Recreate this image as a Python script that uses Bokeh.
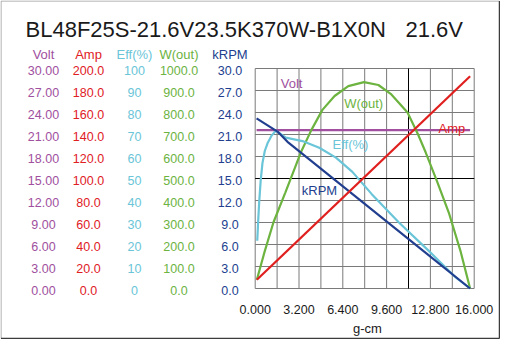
from bokeh.plotting import figure
from bokeh.models import Range1d, ColumnDataSource
from bokeh.core.properties import value
from bokeh.embed import file_html
from bokeh.resources import INLINE

# ---------------- data ----------------
title_model = "BL48F25S-21.6V23.5K370W-B1X0N"
title_voltage = "21.6V"
x_label = "g-cm"
series_names = ["Volt", "Amp", "Eff(%)", "W(out)", "kRPM"]

volt_ticks = [0, 3, 6, 9, 12, 15, 18, 21, 24, 27, 30]
amp_ticks = [0, 20, 40, 60, 80, 100, 120, 140, 160, 180, 200]
eff_ticks = [0, 10, 20, 30, 40, 50, 60, 70, 80, 90, 100]
w_ticks = [0, 100, 200, 300, 400, 500, 600, 700, 800, 900, 1000]
krpm_ticks = [0, 3, 6, 9, 12, 15, 18, 21, 24, 27, 30]
torque_ticks = [0.0, 3.2, 6.4, 9.6, 12.8, 16.0]
torque_grid = [0.0, 1.6, 3.2, 4.8, 6.4, 8.0, 9.6, 11.2, 12.8, 14.4, 16.0]

volt_torque = [0.10, 15.70]
volt = [21.6, 21.6]

amp_torque = [0.12, 15.70]
amp = [7.9, 193.0]

eff_torque = [0.15, 0.22, 0.29, 0.40, 0.53, 0.70, 0.90, 1.20, 1.50, 1.80, 2.24,
              3.45, 4.68, 5.90, 7.10, 8.50, 10.50, 12.70, 14.65, 15.70]
eff = [21.7, 31.0, 39.0, 49.0, 57.0, 62.5, 66.0, 69.5, 71.7, 70.5, 68.6,
       67.0, 64.0, 59.5, 53.0, 43.0, 30.0, 17.0, 5.0, 0.0]

w_torque = [0.12, 0.70, 1.33, 2.20, 3.33, 4.10, 4.91, 5.80, 6.80, 7.95, 9.00,
            9.90, 11.13, 11.90, 12.46, 13.30, 14.17, 15.00, 15.70]
w_out = [40, 170, 300, 436, 618, 720, 812, 875, 920, 938, 925,
         885, 800, 700, 618, 485, 340, 170, 0]

krpm_torque = [0.10, 1.63, 2.36, 15.70]
krpm = [23.2, 21.4, 20.0, 0.0]

# ---------------- layout (pixels inside the 500x339 canvas) ----------------
FIG_W, FIG_H = 500, 339
FR_L, FR_R, FR_T, FR_B = 254.7, 473.7, 68.0, 288.0   # chart grid box
X0, X1 = torque_grid[0], torque_grid[-1]
Y0, Y1 = krpm_ticks[0], krpm_ticks[-1]
xpp = (X1 - X0) / (FR_R - FR_L)
ypp = (Y1 - Y0) / (FR_B - FR_T)
x_start, x_end = X0 - FR_L * xpp, X1 + (FIG_W - FR_R) * xpp
y_start, y_end = Y0 - (FIG_H - FR_B) * ypp, Y1 + FR_T * ypp


def px_x(px):
    return x_start + px * xpp


def px_y(py):
    return y_end - py * ypp


FONT = "Liberation Sans"
C_VOLT = "#a0509e"
C_AMP = "#e0201f"
C_EFF = "#6ac5d8"
C_W = "#6cb33f"
C_RPM = "#223f8f"
GRID = "#7a7a7a"
TXT = "#1a1a1a"

p = figure(width=FIG_W, height=FIG_H, min_border=0,
           x_range=Range1d(x_start, x_end), y_range=Range1d(y_start, y_end),
           x_axis_location=None, y_axis_location=None,
           output_backend="svg", toolbar_location=None)
p.grid.visible = False
p.outline_line_color = None
p.background_fill_color = "white"
p.border_fill_color = "white"


def scaled(top):
    f = top / Y1
    return Range1d(y_start * f, y_end * f)


p.extra_y_ranges = {
    "volt": scaled(volt_ticks[-1]),
    "amp": scaled(amp_ticks[-1]),
    "eff": scaled(eff_ticks[-1]),
    "w": scaled(w_ticks[-1]),
}

# outer border
p.segment(x0=[px_x(0.5), px_x(0.5)], y0=[px_y(0.5), px_y(0.5)],
          x1=[px_x(0.5), px_x(499)], y1=[px_y(338), px_y(0.5)],
          line_color="#9c9c9c", line_width=1)
p.segment(x0=[px_x(499), px_x(0.5)], y0=[px_y(0.5), px_y(338)],
          x1=[px_x(499), px_x(499)], y1=[px_y(338), px_y(338)],
          line_color="#3c3c3c", line_width=1.5)

# grid
n = len(torque_grid)
p.segment(x0=torque_grid, y0=[Y0] * n, x1=torque_grid, y1=[Y1] * n,
          line_color=GRID, line_width=1)
m = len(krpm_ticks)
p.segment(x0=[X0] * m, y0=krpm_ticks, x1=[X1] * m, y1=krpm_ticks,
          line_color=GRID, line_width=1)
p.segment(x0=[torque_grid[7], X0], y0=[Y0, krpm_ticks[5]],
          x1=[torque_grid[7], X1], y1=[Y1, krpm_ticks[5]],
          line_color="black", line_width=1)

# curves
p.line(volt_torque, volt, y_range_name="volt", line_color=C_VOLT, line_width=2.2)
p.line(w_torque, w_out, y_range_name="w", line_color=C_W, line_width=2.2)
p.line(eff_torque, eff, y_range_name="eff", line_color=C_EFF, line_width=2.2)
p.line(krpm_torque, krpm, line_color=C_RPM, line_width=2.2)
p.line(amp_torque, amp, y_range_name="amp", line_color=C_AMP, line_width=2.2)

# curve labels
lab = ColumnDataSource(dict(
    x=[1.87, 6.5, 13.39, 5.65, 3.4],
    y=[27.95, 25.2, 21.8, 19.6, 13.4],
    t=["Volt", "W(out)", "Amp", "Eff(%)", "kRPM"],
    c=[C_VOLT, C_W, C_AMP, C_EFF, C_RPM]))
p.text(x="x", y="y", text="t", text_color="c", source=lab, text_font=value(FONT),
       text_font_size="13px", text_align="left", text_baseline="middle")

# x tick labels and axis title
xt = ColumnDataSource(dict(x=torque_ticks, y=[px_y(308.7)] * len(torque_ticks),
                           t=[f"{v:.3f}" for v in torque_ticks]))
p.text(x="x", y="y", text="t", source=xt, text_font=value(FONT),
       text_font_size="12.5px", text_color=TXT, text_align="center",
       text_baseline="alphabetic")
p.text(x=[px_x(367)], y=[px_y(328)], text=[x_label], text_font=value(FONT),
       text_font_size="13px", text_color=TXT, text_align="center",
       text_baseline="alphabetic")

# title (model name and voltage, separated by a wide gap)
p.text(x=[px_x(25), px_x(405)], y=[px_y(29.3), px_y(29.3)],
       text=[title_model, title_voltage], text_font=value(FONT),
       text_font_size="22px", text_color=TXT, text_align="left",
       text_baseline="alphabetic")

# left value columns with headers
cols = [
    (series_names[0], volt_ticks, [f"{v:.2f}" for v in volt_ticks], "volt", C_VOLT, 43),
    (series_names[1], amp_ticks, [f"{v:.1f}" for v in amp_ticks], "amp", C_AMP, 88),
    (series_names[2], eff_ticks, [f"{v:d}" for v in eff_ticks], "eff", C_EFF, 134),
    (series_names[3], w_ticks, [f"{v:.1f}" for v in w_ticks], "w", C_W, 178.5),
    (series_names[4], krpm_ticks, [f"{v:.1f}" for v in krpm_ticks], "default", C_RPM, 229.5),
]
for name, ticks, texts, rng, col, cx in cols:
    src = ColumnDataSource(dict(x=[px_x(cx)] * len(ticks), y=ticks, t=texts))
    p.text(x="x", y="y", text="t", source=src, y_range_name=rng,
           text_align="center", text_baseline="middle", y_offset=2.3,
           text_font=value(FONT), text_font_size="12.5px", text_color=col)
    p.text(x=[px_x(cx)], y=[px_y(53.7)], text=[name], text_font=value(FONT),
           text_font_size="13px", text_color=col, text_align="center",
           text_baseline="alphabetic")

open("out.html", "w").write(file_html(p, INLINE))
